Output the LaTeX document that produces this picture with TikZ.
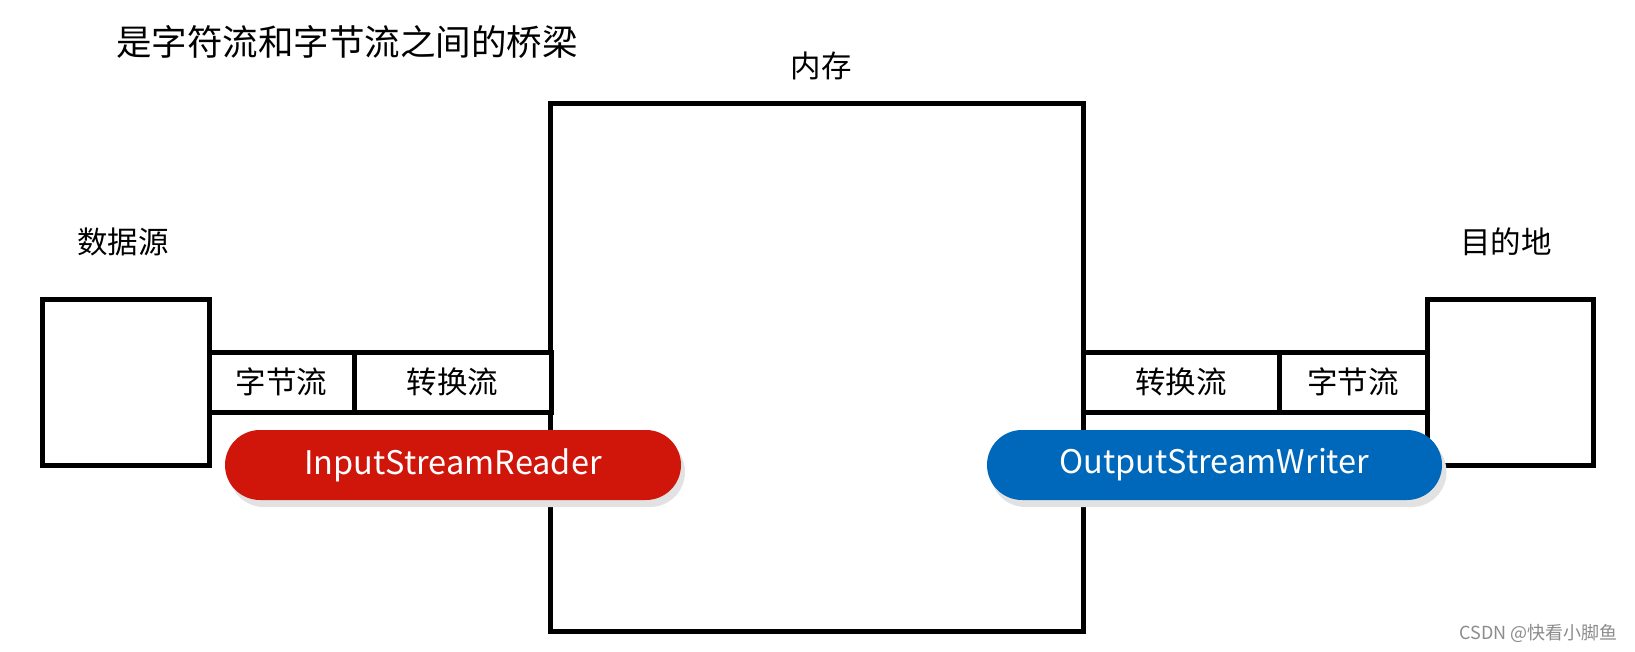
\documentclass[tikz,border=0pt]{standalone}
\usepackage{fontspec}
\setmainfont{Noto Sans CJK SC}
\definecolor{pillred}{HTML}{D0150A}
\definecolor{pillblue}{HTML}{0068BA}
\definecolor{shadowgray}{HTML}{E2E2E2}
\begin{document}
\begin{tikzpicture}[x=1pt,y=-1pt,
  box/.style={draw=black,line width=5pt,fill=white,inner sep=0pt,minimum width=#1},
  cell/.style={draw=black,line width=5pt,fill=white,inner sep=0pt,minimum width=#1,minimum height=60pt,font=\fontsize{30.5}{35}\selectfont},
  pill/.style={fill=#1,rounded corners=35pt,minimum width=456pt,minimum height=70pt,inner sep=0pt,text=white,font=\fontsize{32.5}{37}\selectfont},
  pillshadow/.style={fill=shadowgray,rounded corners=35pt,minimum width=456pt,minimum height=70pt,inner sep=0pt},
  lbl/.style={inner sep=0pt,font=\fontsize{30.5}{35}\selectfont}]
\useasboundingbox[fill=white] (0,0) rectangle (1635,652);
% title and labels
\node[lbl,font=\fontsize{35.5}{40}\selectfont,anchor=west] (title) at (116,42) {是字符流和字节流之间的桥梁};
\node[lbl] (mem) at (821,66) {内存};
\node[lbl] (src) at (123,242) {数据源};
\node[lbl] (dst) at (1506,242) {目的地};
% boxes
\node[box=167pt,minimum height=166pt] (srcbox) at (125.5,382) {};
\node[box=533pt,minimum height=527pt] (membox) at (816.5,367.5) {};
\node[box=166pt,minimum height=166pt] (dstbox) at (1510,382) {};
% strips
\node[cell=145pt] (lbyte) at (281.5,382) {字节流};
\node[cell=197pt] (lconv) at (452.5,382) {转换流};
\node[cell=196pt] (rconv) at (1181,382) {转换流};
\node[cell=148pt] (rbyte) at (1353,382) {字节流};
% pills
\node[pillshadow] (rshadow) at (457,472) {};
\node[pill=pillred] (reader) at (453,465) {InputStreamReader};
\node[pillshadow] (bshadow) at (1218.5,472) {};
\node[pill=pillblue,minimum width=455pt] (writer) at (1214.5,465) {OutputStreamWriter};
% watermark
\node[inner sep=0pt,text=black!45,font=\fontsize{18}{22}\selectfont,anchor=east] (wm) at (1618,633) {CSDN @快看小脚鱼};
\end{tikzpicture}
\end{document}
